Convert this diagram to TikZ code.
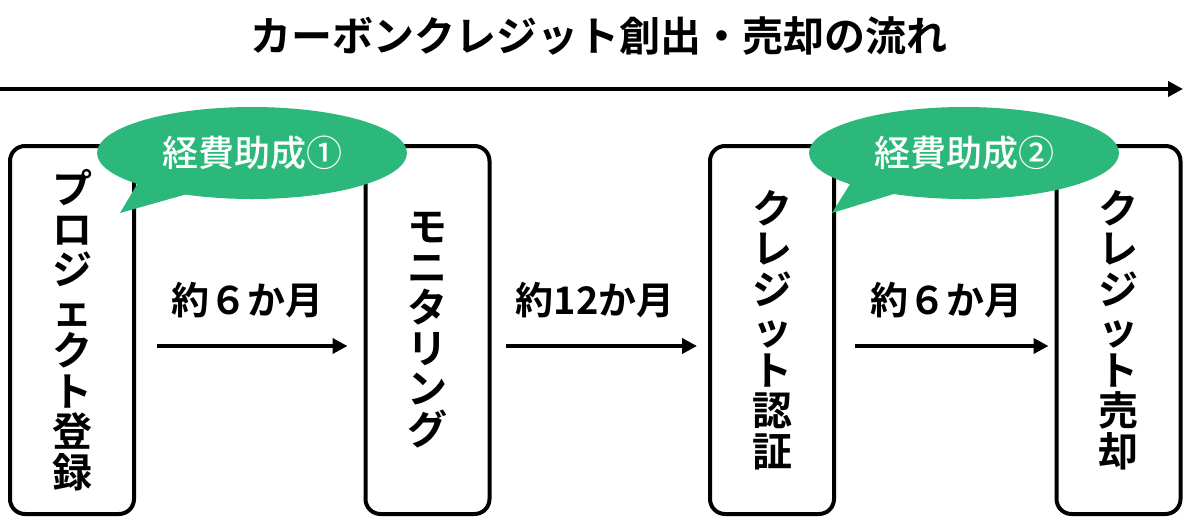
\documentclass[tikz,border=0pt]{standalone}
\usepackage{fontspec}
\setmainfont{Noto Sans CJK JP}[BoldFont={* Bold}]
\newfontfamily\medfont{Noto Sans CJK JP}[UprightFont={* Medium}]
\usetikzlibrary{arrows.meta,calc,shapes.geometric}
\definecolor{bubblegreen}{RGB}{44,184,122}
\begin{document}
\begin{tikzpicture}[x=1pt,y=-1pt,
  stepbox/.style={draw=black, line width=4pt, rounded corners=15pt,
    minimum width=124pt, minimum height=368pt, inner sep=0pt, align=center,
    font=\bfseries\fontsize{40}{40.5}\selectfont},
  flow/.style={line width=4pt, -{Triangle[length=15pt,width=15pt]}},
  lbl/.style={font=\bfseries\fontsize{38}{40}\selectfont, inner sep=0pt},
  bubble/.style={ellipse, fill=bubblegreen, minimum width=310pt, minimum height=92pt,
    inner sep=0pt, text=white, font=\medfont\fontsize{36}{38}\selectfont},
  tail/.style={fill=bubblegreen}]
\useasboundingbox (0,0) rectangle (1200,520);
% title
\node[font=\bfseries\fontsize{41}{43}\selectfont, inner sep=0pt] (title) at (599,36) {カーボンクレジット創出・売却の流れ};
\coordinate (ms) at (0,89);
\coordinate (me) at (1183,89);
\draw[line width=4pt, -{Triangle[length=15pt,width=15pt]}] (ms) -- (me);
% boxes
\node[stepbox] (b1) at (72,330) {プ\\ロ\\ジ\\ェ\\ク\\ト\\登\\録};
\node[stepbox] (b2) at (427.5,330) {モ\\ニ\\タ\\リ\\ン\\グ};
\node[stepbox] (b3) at (772,330) {ク\\レ\\ジ\\ッ\\ト\\認\\証};
\node[stepbox] (b4) at (1118.5,330) {ク\\レ\\ジ\\ッ\\ト\\売\\却};
% arrows
\draw[flow] ($(b1.east)+(21,16)$) -- ($(b2.west)+(-16,16)$);
\draw[flow] ($(b2.east)+(14,16)$) -- ($(b3.west)+(-11,16)$);
\draw[flow] ($(b3.east)+(19,16)$) -- ($(b4.west)+(-6,16)$);
\node[lbl] (l1) at (247,300) {約６か月};
\node[lbl] (l2) at (595,300) {約12か月};
\node[lbl] (l3) at (946,300) {約６か月};
% bubbles
\fill[tail] (142,176) -- (120,213) -- (205,189) -- cycle;
\node[bubble] (s1) at (252,153) {経費助成①};
\fill[tail] (855,176) -- (832,213) -- (910,189) -- cycle;
\node[bubble] (s2) at (964,153) {経費助成②};
\end{tikzpicture}
\end{document}
